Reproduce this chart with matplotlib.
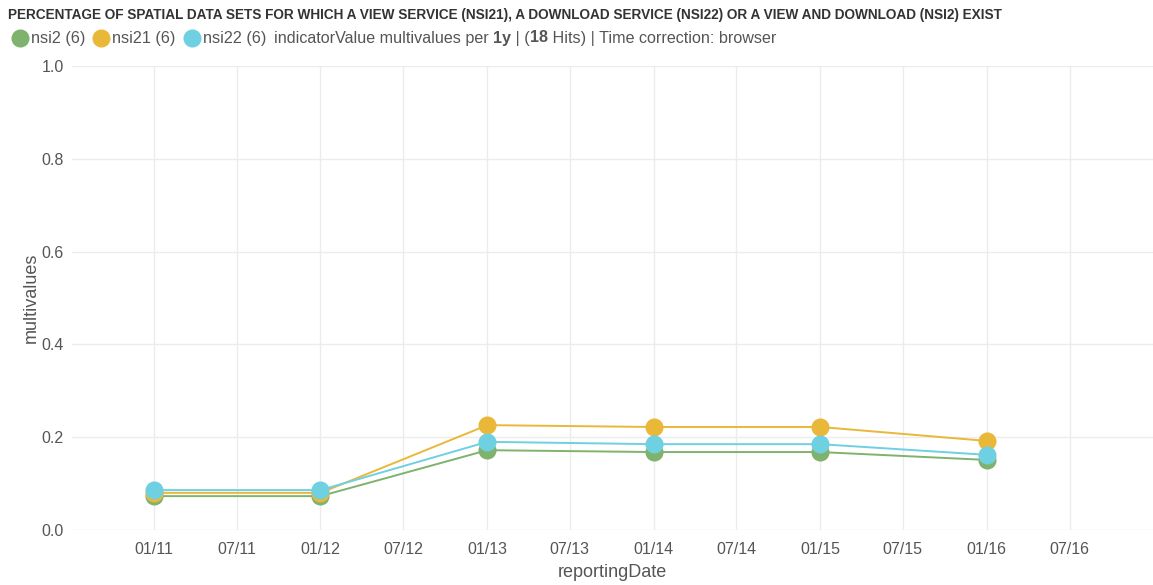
import numpy as np
import matplotlib.pyplot as plt
import matplotlib.dates as mdates
from datetime import datetime

plt.rcParams['font.family'] = ['Liberation Sans', 'DejaVu Sans']

# reporting dates and indicator values
dates = [datetime(y, 1, 1) for y in range(2011, 2017)]
nsi2 = [0.073, 0.073, 0.172, 0.168, 0.168, 0.151]
nsi21 = [0.080, 0.080, 0.226, 0.222, 0.222, 0.192]
nsi22 = [0.086, 0.086, 0.190, 0.185, 0.185, 0.162]

series = [("nsi2 (6)", nsi2, "#7EB26D"),
          ("nsi21 (6)", nsi21, "#EAB839"),
          ("nsi22 (6)", nsi22, "#6ED0E0")]

fig = plt.figure(figsize=(11.53, 5.85), dpi=100)
ax = fig.add_axes([72/1153, 55/585, 1 - 72/1153, (530-66)/585])

for name, vals, col in series:
    ax.plot(dates, vals, color=col, lw=1.4, marker='o', ms=12, label=name)

ax.set_ylim(0, 1.0)
ax.set_xlim(datetime(2010, 7, 5), datetime(2016, 12, 31))
ax.xaxis.set_major_locator(mdates.MonthLocator(bymonth=[1, 7]))
ax.xaxis.set_major_formatter(mdates.DateFormatter('%m/%y'))
ax.set_yticks([0, 0.2, 0.4, 0.6, 0.8, 1.0])
ax.set_yticklabels(['0.0', '0.2', '0.4', '0.6', '0.8', '1.0'])
ax.grid(True, color='#ececec', lw=1)
ax.set_axisbelow(True)
for s in ax.spines.values():
    s.set_visible(False)
ax.tick_params(length=0, colors='#555555', labelsize=11.5)
ax.tick_params(axis='x', pad=9)
ax.tick_params(axis='y', pad=6)
ax.set_xlabel('reportingDate', fontsize=13, color='#555555', labelpad=5)
ax.set_ylabel('multivalues', fontsize=13, color='#555555', labelpad=1)

fig.text(8/1153, 1 - 15/585,
         'PERCENTAGE OF SPATIAL DATA SETS FOR WHICH A VIEW SERVICE (NSI21), A DOWNLOAD SERVICE (NSI22) OR A VIEW AND DOWNLOAD (NSI2) EXIST',
         fontsize=9.8, fontweight='bold', color='#333333', va='center')

# legend line built from pieces
renderer = fig.canvas.get_renderer()
ly = 1 - 38/585
x = 12
pieces = []
for name, vals, col in series:
    pieces.append(('dot', col))
    pieces.append((name, 'normal'))
    pieces.append(('gap', None))
pieces += [('indicatorValue multivalues per ', 'normal'), ('1y', 'bold'),
           (' | (', 'normal'), ('18', 'bold'),
           (' Hits) | Time correction: browser', 'normal')]
for txt, style in pieces:
    if txt == 'dot':
        fig.add_artist(plt.Line2D([(x + 8)/1153], [ly], marker='o', ms=12,
                                  color=style, transform=fig.transFigure))
        x += 19
        continue
    if txt == 'gap':
        x += 8
        continue
    t = fig.text(x/1153, ly, txt, fontsize=11.6, fontweight=style,
                 color='#555555', va='center')
    x = t.get_window_extent(renderer).x1

fig.savefig('out.png', dpi=100)
